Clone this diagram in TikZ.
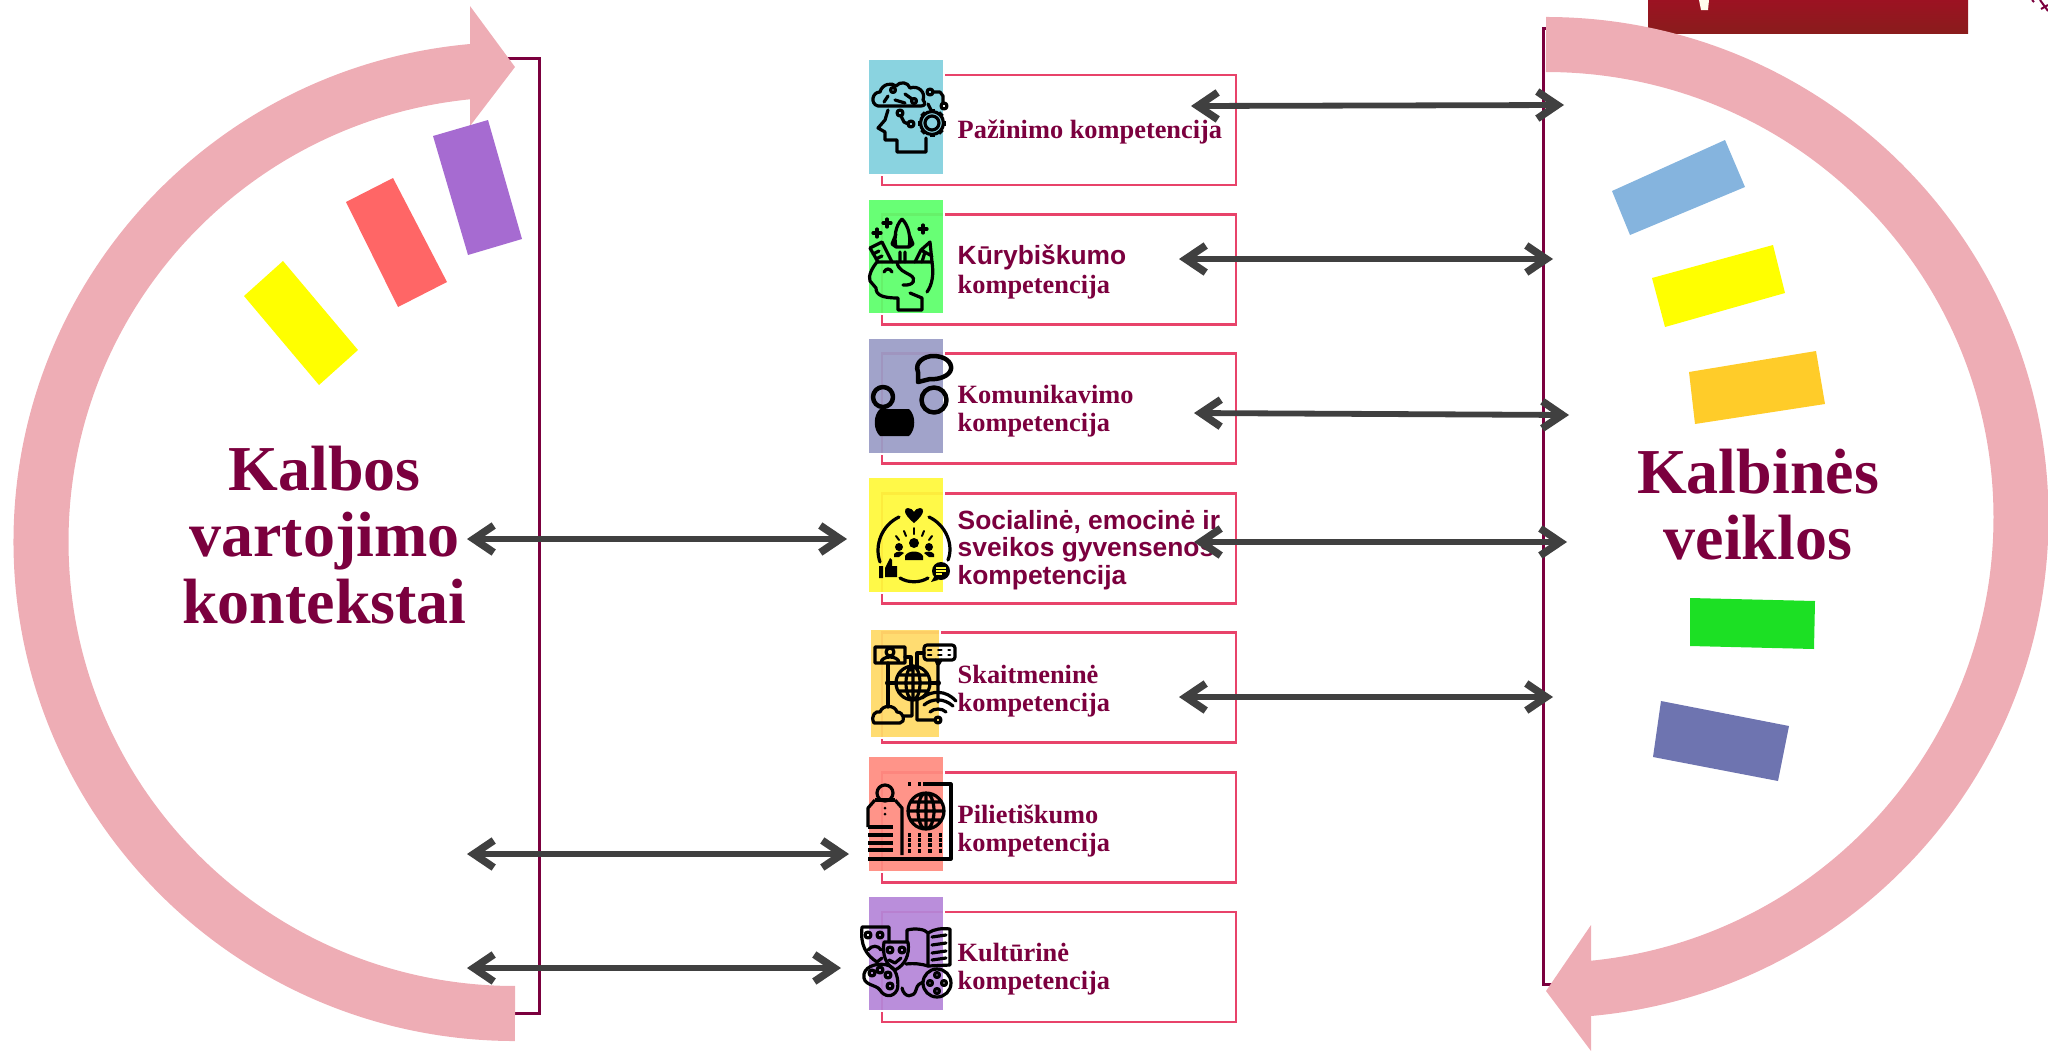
\documentclass[tikz,border=0pt]{standalone}
\usepackage{fontspec}
\setmainfont{Liberation Serif}
\setsansfont{Liberation Sans}
\usepackage{xcolor}
\usetikzlibrary{arrows.meta,positioning}
\definecolor{vyno}{HTML}{7B003E}
\definecolor{juosta}{HTML}{EEADB5}
\definecolor{remas}{HTML}{E8436A}
\definecolor{rodykle}{HTML}{404040}
\tikzset{
  juostaline/.style={draw=juosta,line width=0.55cm},
  juostagalva/.style={fill=juosta,draw=none},
  laikiklis/.style={draw=vyno,line width=0.03cm},
  lapelis/.style={draw=none},
  kompbox/.style={draw=remas,line width=0.022cm,minimum width=3.54cm,minimum height=1.10cm,inner sep=0pt},
  ikona/.style={draw=white,line width=0.015cm,fill opacity=0.93},
  ikline/.style={draw=black,line width=0.032cm,line cap=round,line join=round},
  komplabel/.style={text=vyno,anchor=west,inner sep=0pt,align=left,font=\fontsize{7.5}{8}\selectfont\bfseries},
  didlabel/.style={text=vyno,align=center,inner sep=0pt,font=\fontsize{18.2}{18.8}\selectfont\bfseries},
  dvigubas/.style={draw=rodykle,line width=0.058cm,{Straight Barb[length=0.2cm,width=0.27cm,line width=0.075cm]}-{Straight Barb[length=0.2cm,width=0.27cm,line width=0.075cm]}}
}
\begin{document}
\begin{tikzpicture}[x=0.01cm,y=-0.01cm,line cap=butt,line join=miter]
\useasboundingbox (0,0) rectangle (2048,1051);
%virsutinis kampas
\fill[top color={rgb,255:red,156;green,18;blue,34},bottom color={rgb,255:red,138;green,28;blue,28}] (1648,0) rectangle (1968,33);
\fill[white!92!yellow] (1699,0) -- (1709,0) -- (1708,10) -- (1701,10) -- cycle;
\draw[draw=vyno,line width=0.02cm] (2032,0) -- (2034,2) (2040,0) -- (2048,11) (2048,5) -- (2041,9);
%laikikliai
\draw[laikiklis] (500,58) -- (539,58) -- (539,1013) -- (510,1013);
\draw[laikiklis] (1550,28) -- (1543,28) -- (1543,984) -- (1555,984);
%kairys lankas
\draw[juostaline] (515,1013.5) arc[start angle=90,end angle=265,x radius=474,y radius=472];
\fill[juostagalva] (470,6) -- (515,67) -- (470,126) -- cycle;
%desinys lankas
\draw[juostaline] (1546,44.5) arc[start angle=-90,end angle=85,x radius=475,y radius=473];
\fill[juostagalva] (1591,925) -- (1546,991) -- (1591,1051) -- cycle;
%lapeliai
\fill[lapelis,fill={rgb,255:red,255;green,255;blue,0}] (244,296) -- (283,261) -- (358,350) -- (319,385) -- cycle;
\fill[lapelis,fill={rgb,255:red,255;green,102;blue,102}] (346,202) -- (393,178) -- (447,282) -- (398,307) -- cycle;
\fill[lapelis,fill={rgb,255:red,166;green,107;blue,209}] (433,136) -- (488,120) -- (522,239) -- (468,255) -- cycle;
\fill[lapelis,fill={rgb,255:red,133;green,180;blue,222}] (1612,191) -- (1725,140) -- (1745,187) -- (1630,235) -- cycle;
\fill[lapelis,fill={rgb,255:red,255;green,255;blue,0}] (1652,278) -- (1773,245) -- (1785,293) -- (1665,327) -- cycle;
\fill[lapelis,fill={rgb,255:red,255;green,204;blue,41}] (1689,372) -- (1816,351) -- (1825,404) -- (1695,424) -- cycle;
\fill[lapelis,fill={rgb,255:red,28;green,224;blue,36}] (1690,598) -- (1815,601) -- (1814,649) -- (1690,646) -- cycle;
\fill[lapelis,fill={rgb,255:red,110;green,116;blue,176}] (1661,701) -- (1789,726) -- (1778,781) -- (1653,757) -- cycle;
%dideli uzrasai
\node[didlabel] (kontekstai) at (324.5,535) {Kalbos\\vartojimo\\kontekstai};
\node[didlabel] (veiklos) at (1758,505) {Kalbinės\\veiklos};
%kompetenciju remeliai
\node[kompbox] (pazbox) at (1059,130) {};
\node[kompbox] (kurbox) at (1059,269.5) {};
\node[kompbox] (kombox) at (1059,408.5) {};
\node[kompbox] (socbox) at (1059,548.5) {};
\node[kompbox] (skabox) at (1059,687.5) {};
\node[kompbox] (pilbox) at (1059,827.5) {};
\node[kompbox] (kulbox) at (1059,967) {};
%ikonu fonai
\fill[ikona,fill={rgb,255:red,138;green,211;blue,224},fill opacity=1] (868,59) rectangle (944,175);
\fill[ikona,fill={rgb,255:red,93;green,255;blue,106}] (868,199) rectangle (944,314);
\fill[ikona,fill={rgb,255:red,154;green,156;blue,198}] (868,338) rectangle (944,454);
\fill[ikona,fill={rgb,255:red,255;green,249;blue,58}] (868,477) rectangle (944,593);
\fill[ikona,fill={rgb,255:red,255;green,217;blue,102}] (870,629) rectangle (940,738);
\fill[ikona,fill={rgb,255:red,255;green,140;blue,128}] (868,756) rectangle (944,872);
\fill[ikona,fill={rgb,255:red,181;green,133;blue,216}] (868,896) rectangle (944,1011);
%pazinimo ikona
\draw[ikline] (878,106) .. controls (870,104) and (872,92) .. (880,92) .. controls (882,84) and (892,82) .. (896,86) .. controls (900,81) and (908,82) .. (910,88) .. controls (918,85) and (926,92) .. (923,100) .. controls (926,103) and (925,106) .. (921,106) -- cycle;
\draw[ikline] (888,96) -- (884,102) (893,90) circle[radius=2.5] (905,94) -- (912,99) (914,101) circle[radius=2.5] (895,100) -- (905,103);
\draw[ikline] (888,110) -- (885,120) -- (878,128) -- (885,132) -- (885,140) -- (897,140) -- (897,152) -- (926,152) -- (926,138);
\draw[ikline] (900,113) circle[radius=3] (901,116) -- (904,122) -- (908,124) (911,124) circle[radius=3];
\draw[ikline] (930,92) circle[radius=3] (933,92) -- (940,92) -- (943,96) -- (943,102) (944,106) circle[radius=3] (928,104) -- (931,110);
\draw[ikline] (932,123) circle[radius=7] (932,123) circle[radius=11.5];
\foreach \kampas in {0,45,...,315} \draw[ikline,line width=0.05cm,line cap=butt,shift={(932,123)}] (\kampas:11) -- (\kampas:14);
%kurybiskumo ikona
\draw[ikline] (877,262) -- (932,262) (877,262) .. controls (872,268) and (868,276) .. (870,281) -- (876,288) .. controls (876,295) and (882,298) .. (898,298) -- (898,310) -- (922,310) -- (922,298) -- (910,293);
\draw[ikline] (897,262) .. controls (898,270) and (905,272) .. (910,275) .. controls (917,279) and (914,286) .. (903,285) (932,262) .. controls (934,275) and (932,285) .. (927,292);
\draw[ikline] (884,272) .. controls (886,268) and (890,268) .. (892,272);
\draw[ikline] (870,248) -- (882,242) -- (892,262) (870,248) -- (878,262) (873,254) -- (879,251) (876,259) -- (882,256);
\draw[ikline] (915,262) -- (921,250) -- (930,242) -- (932,262) (921,250) -- (932,256) (922,262) -- (925,252);
\draw[ikline] (902,219) .. controls (895,226) and (894,238) .. (896,247) -- (909,247) .. controls (911,238) and (909,226) .. (902,219) (896,234) -- (892,244) -- (896,247) (909,234) -- (913,244) -- (909,247) (900,252) -- (900,262) (905,252) -- (905,262);
\foreach \x/\y in {887/223,877/233,923/229} \draw[ikline] (\x-4,\y) -- (\x+4,\y) (\x,\y-4) -- (\x,\y+4);
%komunikavimo ikona
\draw[ikline,line width=0.045cm] (918,382) -- (918,372) .. controls (914,362) and (925,356) .. (933,356) .. controls (945,356) and (952,362) .. (951,369) .. controls (950,376) and (938,380) .. (930,379) -- cycle;
\draw[ikline,line width=0.045cm] (883,397) circle[radius=10] (934,400) circle[radius=12.5];
\fill[black] (880,409) -- (909,409) .. controls (916,415) and (916,430) .. (909,436) -- (880,436) .. controls (873,430) and (873,415) .. (880,409) -- cycle;
%socialines ikona
\fill[black] (914,523) .. controls (902,513) and (904,508) .. (908,508) .. controls (911,508) and (913,510) .. (914,512) .. controls (915,510) and (917,508) .. (920,508) .. controls (924,508) and (926,513) .. (914,523) -- cycle;
\draw[ikline] (899,517) .. controls (882,525) and (874,545) .. (880,562) (929,517) .. controls (946,525) and (954,545) .. (948,560) (900,578) .. controls (908,583) and (920,583) .. (928,578);
\foreach \x/\y/\u/\v in {904/531/906/536,914/528/914/534,924/531/922/536,896/536/899/540,932/536/929/540} \draw[ikline,line width=0.02cm] (\x,\y) -- (\u,\v);
\fill[black] (914,543) circle[radius=5] (899,547) circle[radius=4] (929,547) circle[radius=4];
\fill[black] (905,560) -- (905,556) .. controls (908,550) and (920,550) .. (923,556) -- (923,560) -- cycle (894,557) -- (894,554) .. controls (896,551) and (902,551) .. (904,553) -- (899,557) -- cycle (934,557) -- (934,554) .. controls (932,551) and (926,551) .. (924,553) -- (929,557) -- cycle;
\fill[black] (879,566) rectangle (883,578) (885,577) -- (885,568) -- (890,558) -- (892,560) -- (892,566) -- (897,566) -- (897,577) -- cycle;
\fill[black] (941,571) circle[radius=9] (934,577) -- (931,582) -- (938,580) -- cycle;
\draw[draw={rgb,255:red,255;green,249;blue,58},line width=0.012cm] (936,568) -- (946,568) (936,571) -- (946,571) (936,574) -- (942,574);
%skaitmenines ikona
\draw[ikline] (875,647) rectangle (905,663) (881,663) .. controls (881,655) and (899,655) .. (899,663) (890,652) circle[radius=4];
\draw[ikline,rounded corners=0.03cm] (924,645) rectangle (955,660);
\draw[ikline] (936,660) -- (938,665) -- (941,660) (938,665) -- (938,702);
\draw[ikline,dotted,line width=0.025cm] (928,650) -- (950,650) (928,655) -- (950,655);
\draw[ikline] (913,683) circle[radius=17] (913,683) ellipse[x radius=7,y radius=17] (896,683) -- (930,683) (899,675) -- (927,675) (899,691) -- (927,691) (913,666) -- (913,700);
\draw[ikline] (888,663) -- (888,707) (888,683) -- (896,683) (930,683) -- (938,683) (905,657) -- (911,657) -- (911,670) (917,667) -- (917,653) -- (924,653);
\fill[black] (888,683) circle[radius=3] (938,683) circle[radius=3];
\draw[ikline] (874,723) .. controls (870,716) and (876,710) .. (880,712) .. controls (883,704) and (895,705) .. (897,712) .. controls (904,712) and (906,722) .. (900,723) -- cycle (903,716) -- (912,716) -- (912,700) (917,700) -- (917,720) -- (934,720);
\draw[ikline] (938,720) circle[radius=3] (930,712) .. controls (934,708) and (942,708) .. (946,712) (924,705) .. controls (932,698) and (944,698) .. (953,706);
\draw[ikline] (922,698) .. controls (932,690) and (946,690) .. (956,701);
%pilietiskumo ikona
\draw[ikline,line cap=butt] (923,784) -- (951,784) -- (951,859) -- (868,859);
\draw[ikline,dotted,line cap=butt] (908,784) -- (921,784);
\draw[ikline] (885,793) circle[radius=8];
\draw[ikline,line cap=butt] (868,827) -- (868,808) -- (875,800) (895,800) -- (902,808) -- (902,855);
\draw[ikline,line cap=butt] (875,800) -- (895,800) (868,827) -- (893,827) (868,835) -- (893,835) (868,843) -- (893,843) (868,850) -- (893,850);
\fill[black] (885,808) circle[radius=1.5] (885,814) circle[radius=1.5];
\draw[ikline] (926,811) circle[radius=18] (926,811) ellipse[x radius=8,y radius=18] (908,811) -- (944,811) (911,802) -- (941,802) (911,820) -- (941,820) (926,793) -- (926,829);
\draw[ikline,dotted,line cap=butt] (908,835) -- (945,835) (908,840) -- (945,840) (908,845) -- (945,845) (908,851) -- (945,851);
%kulturines ikona
\draw[ikline] (862,927) -- (889,927) -- (889,942) (862,927) .. controls (860,945) and (866,955) .. (877,962) -- (882,958);
\draw[ikline] (868,935) circle[radius=3] (880,935) circle[radius=3] (868,950) .. controls (872,945) and (878,945) .. (881,950);
\draw[ikline] (884,942) -- (908,942) .. controls (910,955) and (905,965) .. (895,970) .. controls (886,965) and (882,955) .. (884,942);
\draw[ikline] (890,950) circle[radius=3] (902,950) circle[radius=3] (889,960) -- (895,963) -- (901,958);
\draw[ikline] (907,930) .. controls (915,928) and (925,929) .. (928,933) -- (928,966) .. controls (922,964) and (914,963) .. (906,964) (907,930) -- (907,942);
\draw[ikline] (928,933) .. controls (934,929) and (942,928) .. (950,929) -- (950,965) -- (928,966) (932,937) -- (946,935) (932,945) -- (946,943) (932,953) -- (946,951) (932,960) -- (946,958);
\draw[ikline] (864,974) .. controls (866,965) and (880,962) .. (890,966) .. controls (898,970) and (899,985) .. (897,990) .. controls (893,998) and (884,997) .. (880,990) .. controls (876,984) and (862,986) .. (864,974) -- cycle;
\draw[ikline] (872,973) circle[radius=3] (880,970) circle[radius=3] (888,975) circle[radius=3] (890,986) circle[radius=3];
\draw[ikline] (937,983) circle[radius=14] (937,975) circle[radius=2.5] (930,983) circle[radius=2.5] (944,983) circle[radius=2.5] (937,991) circle[radius=2.5];
\draw[ikline] (902,988) .. controls (904,998) and (914,998) .. (916,990) .. controls (917,985) and (920,983) .. (923,982);
%kompetenciju uzrasai
\node[komplabel] (pazlabel) at (957,132) {Pažinimo kompetencija};
\node[komplabel] (kurlabel) at (957,272) {{\sffamily Kūrybiškumo}\\kompetencija};
\node[komplabel] (komlabel) at (957,411) {Komunikavimo\\kompetencija};
\node[komplabel,font=\fontsize{7.5}{7.8}\selectfont\bfseries\sffamily] (soclabel) at (957,550) {Socialinė, emocinė ir\\sveikos gyvensenos\\kompetencija};
\node[komplabel] (skalabel) at (957,691) {Skaitmeninė\\kompetencija};
\node[komplabel] (pillabel) at (957,831) {Pilietiškumo\\kompetencija};
\node[komplabel] (kullabel) at (957,969) {Kultūrinė\\kompetencija};
%rodykliu galai
\coordinate (pazL) at (1191,106); \coordinate (pazR) at (1564,105);
\coordinate (kurL) at (1179,259); \coordinate (kurR) at (1553,259);
\coordinate (komL) at (1194,413); \coordinate (komR) at (1569,415);
\coordinate (socL) at (1194,542); \coordinate (socR) at (1567,542);
\coordinate (skaL) at (1179,697); \coordinate (skaR) at (1553,697);
\coordinate (kntA) at (467,539); \coordinate (kntB) at (847,539);
\coordinate (pilA) at (467,854); \coordinate (pilB) at (849,854);
\coordinate (kulA) at (467,968); \coordinate (kulB) at (841,968);
\foreach \a/\b in {pazL/pazR,kurL/kurR,komL/komR,socL/socR,skaL/skaR,kntA/kntB,pilA/pilB,kulA/kulB}
  \draw[dvigubas] (\a) -- (\b);
\end{tikzpicture}
\end{document}
